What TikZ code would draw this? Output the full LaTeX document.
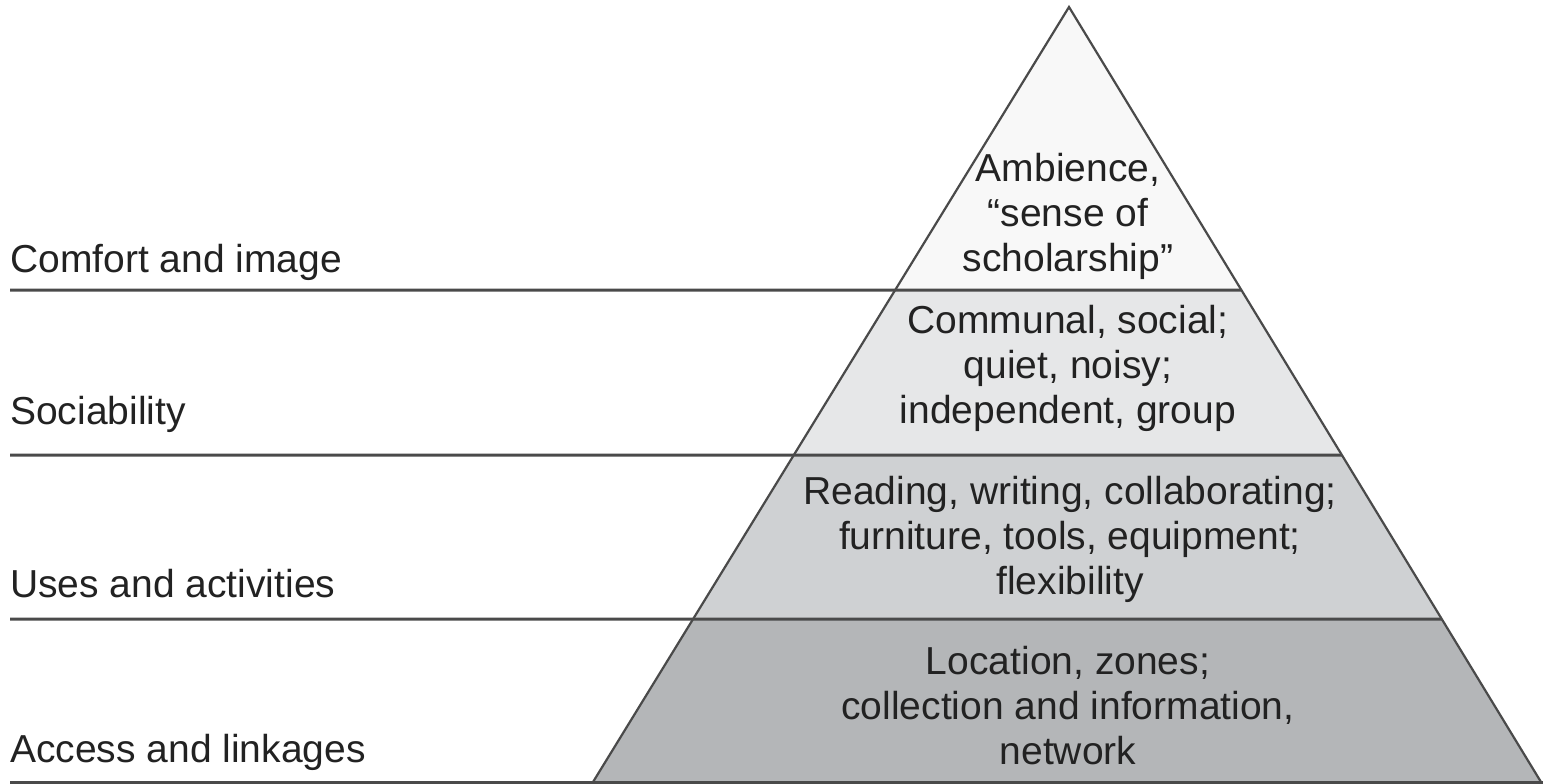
\documentclass[tikz,border=0pt]{standalone}
\usepackage{fontspec}
\setmainfont{Liberation Sans}
\usetikzlibrary{calc}
\definecolor{lvA}{HTML}{F8F8F8}
\definecolor{lvB}{HTML}{E6E7E8}
\definecolor{lvC}{HTML}{CFD1D3}
\definecolor{lvD}{HTML}{B4B6B8}
\definecolor{edge}{HTML}{4A4A4A}
\definecolor{txt}{HTML}{222222}
\begin{document}
\begin{tikzpicture}[x=1pt,y=-1pt,
  lvtext/.style={align=center,text=txt,font=\fontsize{39}{45}\selectfont,inner sep=0pt},
  sidetext/.style={anchor=west,text=txt,font=\fontsize{39}{45}\selectfont,inner sep=0pt},
  sep/.style={draw=edge,line width=3pt},
  side/.style={draw=edge,line width=2.2pt}]
\useasboundingbox (0,0) rectangle (1543,784);
\coordinate (A) at (1069,7);
\coordinate (BL) at (593,782);
\coordinate (BR) at (1541,782);
\coordinate (L1) at ($(A)!0.3652!(BL)$);
\coordinate (R1) at ($(A)!0.3652!(BR)$);
\coordinate (L2) at ($(A)!0.5781!(BL)$);
\coordinate (R2) at ($(A)!0.5781!(BR)$);
\coordinate (L3) at ($(A)!0.7897!(BL)$);
\coordinate (R3) at ($(A)!0.7897!(BR)$);
\fill[lvA] (A) -- (L1) -- (R1) -- cycle;
\fill[lvB] (L1) -- (L2) -- (R2) -- (R1) -- cycle;
\fill[lvC] (L2) -- (L3) -- (R3) -- (R2) -- cycle;
\fill[lvD] (L3) -- (BL) -- (BR) -- (R3) -- cycle;
\draw[side] (BL) -- (A) -- (BR);
\coordinate (S1) at (10,290);
\coordinate (S2) at (10,455);
\coordinate (S3) at (10,619);
\coordinate (S4) at (10,782);
\coordinate (E4) at (1543,782);
\draw[sep] (S1) -- (R1);
\draw[sep] (S2) -- (R2);
\draw[sep] (S3) -- (R3);
\draw[sep] (S4) -- (E4);
\node[lvtext] (t1) at (1068,216) {Ambience,\\“sense of\\scholarship”};
\node[lvtext] (t2) at (1068,368) {Communal, social;\\quiet, noisy;\\independent, group};
\node[lvtext] (t3) at (1070,539) {Reading, writing, collaborating;\\furniture, tools, equipment;\\flexibility};
\node[lvtext] (t4) at (1068,706) {Location, zones;\\collection and information,\\network};
\node[sidetext] (s1) at (10,262) {Comfort and image};
\node[sidetext] (s2) at (10,414) {Sociability};
\node[sidetext] (s3) at (10,584) {Uses and activities};
\node[sidetext] (s4) at (10,752) {Access and linkages};
\end{tikzpicture}
\end{document}
